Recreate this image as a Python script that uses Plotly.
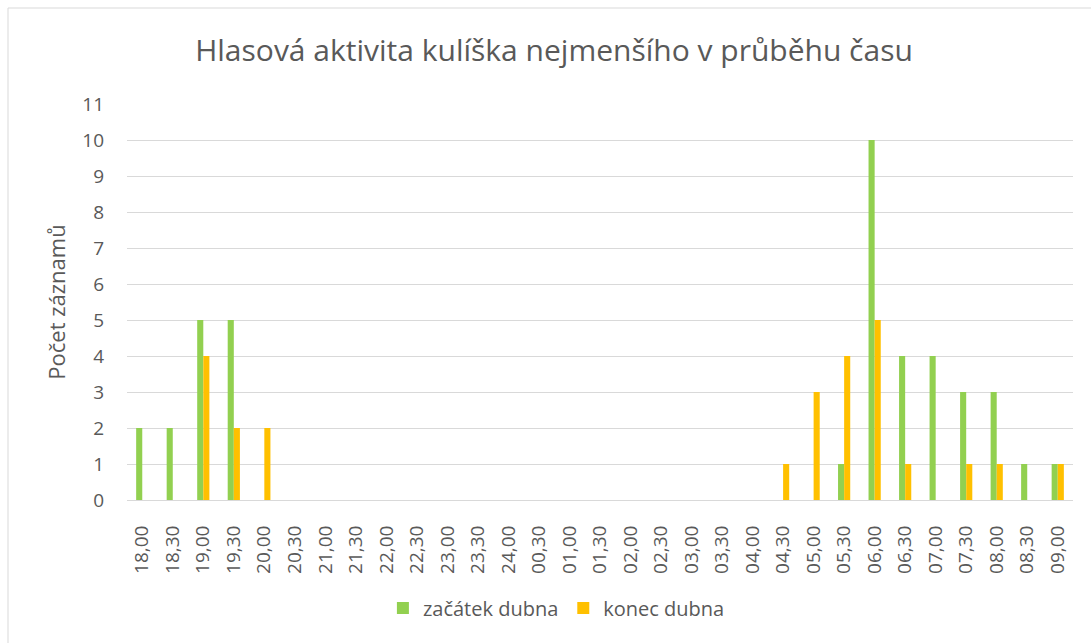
import plotly.graph_objects as go

categories = ["18,00", "18,30", "19,00", "19,30", "20,00", "20,30", "21,00", "21,30",
              "22,00", "22,30", "23,00", "23,30", "24,00", "00,30", "01,00", "01,30",
              "02,00", "02,30", "03,00", "03,30", "04,00", "04,30", "05,00", "05,30",
              "06,00", "06,30", "07,00", "07,30", "08,00", "08,30", "09,00"]
zacatek_dubna = [2, 2, 5, 5, 0, 0, 0, 0, 0, 0, 0, 0, 0, 0, 0, 0,
                 0, 0, 0, 0, 0, 0, 0, 1, 10, 4, 4, 3, 3, 1, 1]
konec_dubna = [0, 0, 4, 2, 2, 0, 0, 0, 0, 0, 0, 0, 0, 0, 0, 0,
               0, 0, 0, 0, 0, 1, 3, 4, 5, 1, 0, 1, 1, 0, 1]
series_names = ["začátek dubna", "konec dubna"]
y_ticks = list(range(0, 12))

colors = ["#92D050", "#FFC000"]
font_family = "Open Sans, Liberation Sans, sans-serif"
text_color = "#595959"

L, R, T, B = 127, 18, 104, 143
W, H = 1091, 643
pw, ph = W - L - R, H - T - B

fig = go.Figure()
for name, vals, col in zip(series_names, [zacatek_dubna, konec_dubna], colors):
    fig.add_trace(go.Bar(x=categories, y=vals, name=name, showlegend=False,
                         marker=dict(color=col, line=dict(width=0))))
for name, col in zip(series_names, colors):
    fig.add_trace(go.Scatter(x=[None], y=[None], mode="markers", name=name,
                             marker=dict(symbol="square", size=12, color=col)))

fig.update_layout(
    width=W, height=H,
    barmode="group", bargap=0.6, bargroupgap=0,
    paper_bgcolor="white", plot_bgcolor="white",
    margin=dict(l=L, r=R, t=T, b=B, pad=0),
    font=dict(family=font_family, color=text_color),
    title=dict(text="Hlasová aktivita kulíška nejmenšího v průběhu času",
               x=554 / W, xanchor="center", xref="container", y=1 - 50 / H, yanchor="middle",
               font=dict(size=30, color=text_color, family=font_family)),
    legend=dict(orientation="h", x=0.51, xanchor="center", xref="container",
                y=1 - 608 / H, yanchor="middle", yref="container",
                font=dict(size=20, color=text_color), itemwidth=30,
                traceorder="normal"),
    showlegend=True,
)
fig.update_xaxes(type="category", tickangle=-90, tickfont=dict(size=19, color=text_color),
                 showgrid=False, showline=True, linecolor="#D9D9D9", linewidth=1,
                 ticks="", ticklabelstandoff=17)
fig.update_yaxes(range=[0, 11], tickvals=y_ticks, tickfont=dict(size=19, color=text_color),
                 showgrid=True, gridcolor="#D9D9D9", gridwidth=1, zeroline=False,
                 showline=False, ticks="", ticklabelstandoff=22,
                 title=dict(text="Počet záznamů", font=dict(size=22, color=text_color),
                            standoff=10))
fig.add_shape(type="rect", xref="paper", yref="paper",
              x0=-(L - 8) / pw, x1=1 + (R + 5) / pw, y0=-(B + 5) / ph, y1=1 + (T - 8) / ph,
              line=dict(color="#D9D9D9", width=1), fillcolor="rgba(0,0,0,0)", layer="below")

fig.write_html("out.html", config={"displayModeBar": False})

with open("out.html", "r", encoding="utf-8") as f:
    html = f.read()
html = html.replace("<head>", "<head><style>html,body{margin:0;padding:0;}</style>", 1)
with open("out.html", "w", encoding="utf-8") as f:
    f.write(html)
